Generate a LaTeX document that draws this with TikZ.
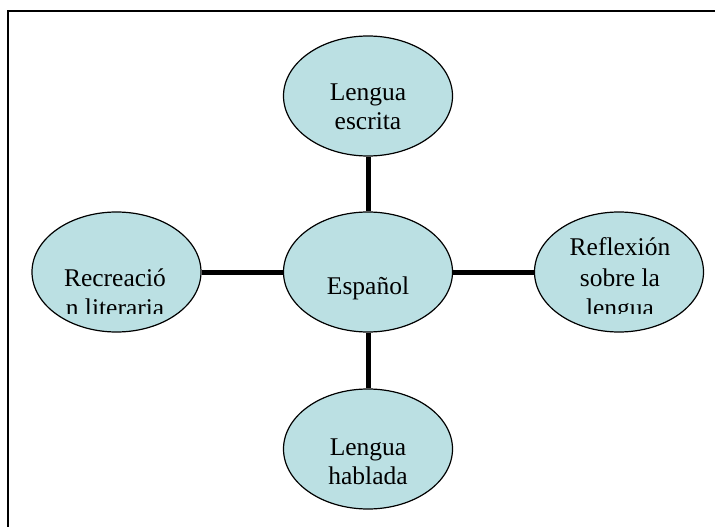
\documentclass[tikz,border=0pt]{standalone}
\usepackage{fontspec}
\setmainfont{Liberation Serif}
\usetikzlibrary{shapes.geometric}
\definecolor{bubble}{HTML}{BBE0E3}
\tikzset{
  bub/.style={ellipse, draw=black, fill=bubble, line width=1.2bp,
    minimum width=169bp, minimum height=120bp, inner sep=0pt},
  conn/.style={line width=5bp, black},
  lbl/.style={anchor=base, inner sep=0pt, font=\fontsize{25.6}{30}\selectfont},
  frame/.style={line width=2bp, black}
}
\begin{document}
\begin{tikzpicture}[x=1bp, y=-1bp]
\useasboundingbox (0,0) rectangle (715,527);
\coordinate (fa) at (7.5,527);
\coordinate (fb) at (7.5,11);
\coordinate (fc) at (715,11);
\draw[frame] (fa) -- (fb) -- (fc);

\node[bub] (top) at (368,96) {};
\node[bub] (ctr) at (368,272) {};
\node[bub] (bot) at (368,449) {};
\node[bub] (lft) at (116.5,272) {};
\node[bub] (rgt) at (619,272) {};

\draw[conn] (top) -- (ctr);
\draw[conn] (ctr) -- (bot);
\draw[conn] (lft) -- (ctr);
\draw[conn] (ctr) -- (rgt);

\node[lbl] (t1) at (368,101) {Lengua};
\node[lbl] (t2) at (368,130) {escrita};
\node[lbl] (c1) at (368,294) {Español};
\node[lbl] (b1) at (368,455) {Lengua};
\node[lbl] (b2) at (368,484) {hablada};

\begin{scope}
\clip (20,200) rectangle (700,313.5);
\node[lbl] (l1) at (115,286) {Recreació};
\node[lbl] (l2) at (115,316) {n literaria};
\node[lbl] (r1) at (620,256) {Reflexión};
\node[lbl] (r2) at (620,286) {sobre la};
\node[lbl] (r3) at (620,316) {lengua};
\end{scope}
\end{tikzpicture}
\end{document}
